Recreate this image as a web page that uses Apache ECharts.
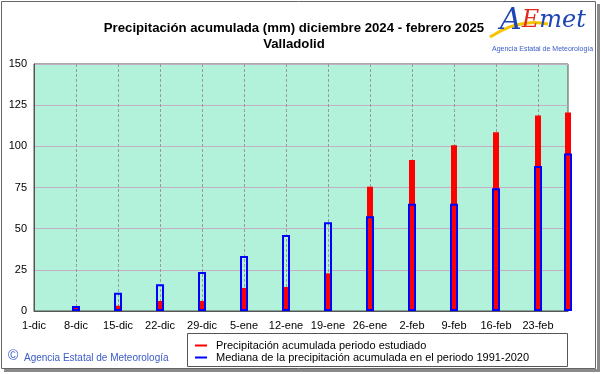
<!DOCTYPE html>
<html><head><meta charset="utf-8">
<script src="https://cdn.jsdelivr.net/npm/echarts@6/dist/echarts.min.js"></script>
<style>html,body{margin:0;padding:0;background:#fff}#c{width:601px;height:374px}</style>
</head><body><div id="c"></div>
<script>
const days = [7,14,21,28,35,42,49,56,63,70,77,84,89];
const weekLabels = ['1-dic','8-dic','15-dic','22-dic','29-dic','5-ene','12-ene','19-ene','26-ene','2-feb','9-feb','16-feb','23-feb'];
const precip = [2, 3.2, 6.1, 6.1, 14.0, 14.6, 22.9, 75.5, 91.7, 100.6, 108.5, 118.8, 120.6];
const median = [3.0, 11.1, 16.2, 23.7, 33.4, 46.1, 53.9, 57.5, 65.2, 65.2, 74.5, 88.0, 95.7];
const yTicks = [0,25,50,75,100,125,150];
const nDays = 90;

const dayCats = Array.from({length:nDays}, (_, i) => String(i));
function toSeries(vals){
  const arr = new Array(nDays).fill(null);
  days.forEach((d,i)=>{ arr[d] = vals[i]; });
  return arr;
}

const FONT = '"Liberation Sans", Arial, sans-serif';
const chart = echarts.init(document.getElementById('c'), null, {renderer:'canvas'});
const xBase = {type:'category', data:dayCats, boundaryGap:false};
chart.setOption({
  animation:false,
  backgroundColor:'#fff',
  title:{
    text:'Precipitación acumulada (mm) diciembre 2024 - febrero 2025\nValladolid',
    left:289, top:15, textAlign:'center',
    textStyle:{fontFamily:FONT, fontSize:13.2, fontWeight:'bold', color:'#000', lineHeight:16}
  },
  grid:{left:34, top:64, right:33, bottom:63, show:true, backgroundColor:'#b2f2da', borderColor:'#555', borderWidth:1},
  xAxis:[
    Object.assign({}, xBase, {
      axisLine:{show:true, lineStyle:{color:'#555'}},
      axisTick:{show:false},
      axisLabel:{interval:6, margin:9, fontFamily:FONT, fontSize:11, color:'#000',
        formatter:(v) => { const n = +v; return (n % 7 === 0 && weekLabels[n/7]) ? weekLabels[n/7] : ''; }},
      splitLine:{show:true, interval:6, lineStyle:{color:'#9a9a9a', type:[3,2], width:1}}
    }),
    Object.assign({}, xBase, {show:false})
  ],
  yAxis:{
    type:'value', min:yTicks[0], max:yTicks[yTicks.length-1], interval:25,
    axisLine:{show:true, lineStyle:{color:'#555'}},
    axisTick:{show:false},
    axisLabel:{margin:7, fontFamily:FONT, fontSize:11, color:'#000'},
    splitLine:{show:true, lineStyle:{color:'#c4aec4', width:1}}
  },
  legend:{
    orient:'vertical', left:190, top:335, itemWidth:12, itemHeight:2, itemGap:1,
    textStyle:{fontFamily:FONT, fontSize:11, color:'#000', padding:[0,0,0,4]},
    data:[
      {name:'Precipitación acumulada periodo estudiado', icon:'rect', itemStyle:{color:'#ff0000', borderWidth:0, opacity:1}},
      {name:'Mediana de la precipitación acumulada en el periodo 1991-2020', icon:'rect', itemStyle:{color:'#0000ff', borderWidth:0, opacity:1}}
    ]
  },
  series:[
    {name:'Precipitación acumulada periodo estudiado', type:'bar', xAxisIndex:0, barWidth:6,
     itemStyle:{color:'#ff0000'}, z:2,
     data:toSeries(precip)},
    {name:'Mediana de la precipitación acumulada en el periodo 1991-2020', type:'bar', xAxisIndex:1, barWidth:8,
     itemStyle:{color:'rgba(0,0,0,0)', borderColor:'#0000ff', borderWidth:2}, z:3,
     data:toSeries(median)}
  ],
  graphic:[
    {type:'rect', shape:{x:1.5, y:1.5, width:594, height:367}, style:{fill:'none', stroke:'#666', lineWidth:1}, z:-1},
    {type:'rect', shape:{x:597, y:4, width:3, height:367}, style:{fill:'#8a8a8a'}},
    {type:'rect', shape:{x:4, y:369, width:596, height:3}, style:{fill:'#8a8a8a'}},
    {type:'rect', shape:{x:187.5, y:333.5, width:380, height:33}, style:{fill:'#fff', stroke:'#555', lineWidth:1}, z:-1},
    {type:'text', left:8, top:349, style:{text:'©', fontFamily:FONT, fontSize:14, fill:'#3a5bc7'}},
    {type:'text', left:24, top:353, style:{text:'Agencia Estatal de Meteorología', fontFamily:FONT, fontSize:10, fill:'#3a5bc7'}},
    {type:'bezierCurve', shape:{x1:490, y1:37, cpx1:510, cpy1:24, cpx2:530, cpy2:20, x2:548, y2:24},
     style:{stroke:'#f5c400', lineWidth:3, fill:'none'}},
    {type:'text', left:500, top:6, style:{
      text:'{a|A}{e|E}{m|met}',
      rich:{
        a:{fontFamily:'"DejaVu Serif", serif', fontStyle:'italic', fontSize:30, fill:'#1f45b5'},
        e:{fontFamily:'"DejaVu Serif", serif', fontStyle:'italic', fontSize:24, fill:'#e02a1e'},
        m:{fontFamily:'"DejaVu Serif", serif', fontStyle:'italic', fontSize:24, fill:'#1f45b5'}
      }}},
    {type:'text', left:492, top:46, style:{text:'Agencia Estatal de Meteorología', fontFamily:FONT, fontSize:7, fill:'#3a5bc7'}}
  ]
});
</script></body></html>
